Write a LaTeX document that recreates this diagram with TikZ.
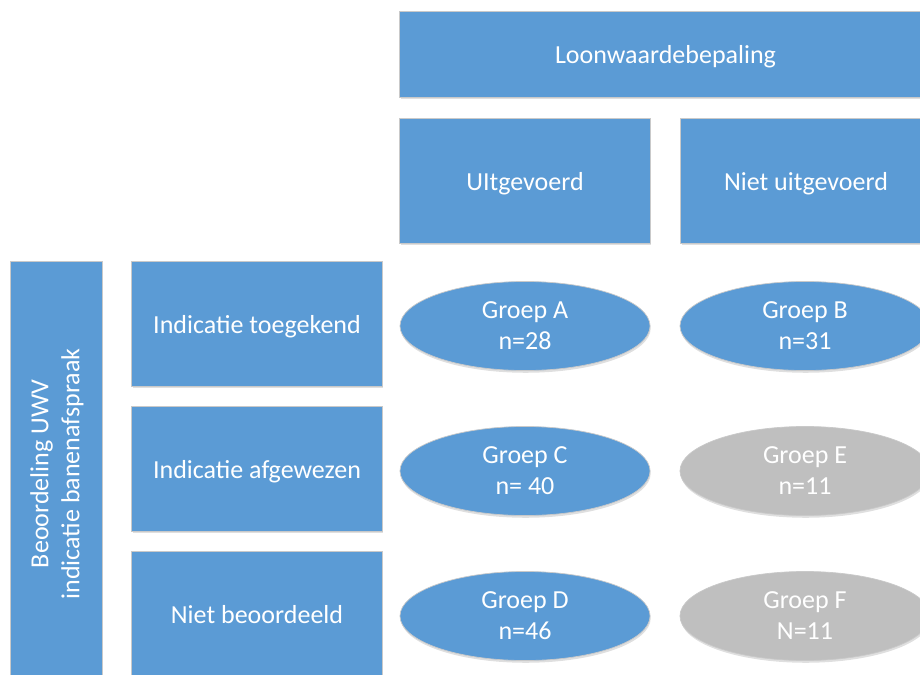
\documentclass[tikz,border=0pt]{standalone}
\usepackage{fontspec}
\setmainfont{Carlito}
\usetikzlibrary{shapes.geometric,shadows}
\definecolor{vakblauw}{HTML}{5B9BD5}
\definecolor{vakgrijs}{HTML}{BFBFBF}
\definecolor{vakrand}{HTML}{C9C9C9}
\begin{document}
\begin{tikzpicture}[x=0.025cm, y=-0.025cm,
  vak/.style={rectangle, fill=vakblauw, draw=vakrand, line width=0.7pt, text=white, inner sep=0pt,
    minimum width=6.25cm, minimum height=3.1cm, text height=14pt, text depth=0.6pt,
    drop shadow={shadow xshift=0.5pt, shadow yshift=-1.6pt, opacity=0.25}},
  groep/.style={ellipse, fill=vakblauw, draw=vakrand, line width=0.5pt, text=white, inner sep=0pt,
    minimum width=6.25cm, minimum height=2.225cm, align=center,
    drop shadow={shadow xshift=0.5pt, shadow yshift=-1.6pt, opacity=0.25}},
  grijs/.style={fill=vakgrijs},
  font=\fontsize{18.5}{22}\selectfont]
  \useasboundingbox (0,0) rectangle (920,675);
  \clip (0,0) rectangle (920,675);
  % kolommen
  \node[vak, minimum width=13.275cm, minimum height=2.125cm] (loon) at (665.5,54.5) {Loonwaardebepaling};
  \node[vak] (uit) at (525,181) {UItgevoerd};
  \node[vak] (nietuit) at (806,181) {Niet uitgevoerd};
  % rijen
  \node[vak, minimum width=2.275cm, minimum height=10.6cm] (uwv) at (56.5,474) {};
  \node[rotate=90, text=white, align=center] (uwvtekst) at (57,474) {Beoordeling UWV\\indicatie banenafspraak};
  \node[vak] (toe) at (257,324) {Indicatie toegekend};
  \node[vak] (afg) at (257,469) {Indicatie afgewezen};
  \node[vak] (niet) at (257,614) {Niet beoordeeld};
  % groepen
  \node[groep] (A) at (525,326) {Groep A\\n=28};
  \node[groep] (B) at (805,326) {Groep B\\n=31};
  \node[groep] (C) at (525,471) {Groep C\\n= 40};
  \node[groep, grijs] (E) at (805,471) {Groep E\\n=11};
  \node[groep] (D) at (525,616) {Groep D\\n=46};
  \node[groep, grijs] (F) at (805,616) {Groep F\\N=11};
\end{tikzpicture}
\end{document}
